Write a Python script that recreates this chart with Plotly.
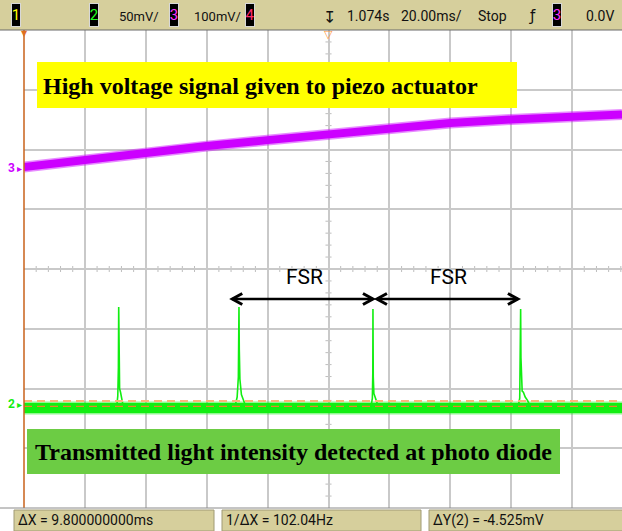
import plotly.graph_objects as go

# ---------------- data ----------------
# horizontal: 20 ms/div, 10 divisions, screen centre = 0 ms
ramp_t_ms = [-100, -80, -60, -40, -20, 0, 20, 40, 60, 80, 96.4]
ramp_mv = [0, 12.5, 25, 35, 45, 55, 65, 73.5, 79.5, 84.5, 88]        # channel 3 (100 mV/div)

pd_t_ms = [-100,
           -69.6, -69.2, -69.0, -68.9, -68.8, -68.6, -68.3, -67.9, -67.3,
           -30.8, -30.0, -29.6, -29.4, -29.3, -29.1, -28.9, -28.6, -28.0, -27.0,
           13.9, 14.4, 14.55, 14.6, 14.7, 14.9, 15.2, 15.7, 16.5,
           62.2, 62.8, 62.95, 63.1, 63.2, 63.35, 63.6, 64.0, 64.6, 65.4, 66.5,
           96.4]
pd_mv = [-4.2,
         -4.2, 6, 30, 80.3, 35, 12, 9, 3, -4.2,
         -4.2, 5, 22, 80.3, 45, 20, 10, 7, 3, -4.2,
         -4.2, 4, 25, 78.7, 22, 8, 5, 2, -4.2,
         -4.2, 4, 38, 78.7, 38, 14, 10, 9, 5, 2, -4.2,
         -4.2]                                                          # channel 2 (50 mV/div)
pd_baseline_mv = -4.2

fsr_start_ms = [-31.6, 15.9]
fsr_end_ms = [14.6, 62.2]
fsr_labels = ["FSR", "FSR"]

cursor_y_mv = [1.7, -2.825]

# channel settings (scale mV/div, ground position in divisions)
ch3_scale, ch3_offset = 100.0, 1.707
ch2_scale, ch2_offset = 50.0, -2.243

def ch3(v): return [x / ch3_scale + ch3_offset for x in v]
def ch2(v): return [x / ch2_scale + ch2_offset for x in v]

# ---------------- geometry helpers ----------------
W, H = 622, 531
L, R, T, B = 24, 0, 30, 23
PW, PH = W - L - R, H - T - B
XMIN = -100
XMAX = XMIN + PW / 60.9 * 20
def X(px): return (px - L) / PW
def Y(py): return (H - B - py) / PH

PURPLE = "#cc00ff"
GREEN = "#12ee12"
TAN = "#d6cf9c"
NARROW = "Liberation Sans Narrow, Roboto, sans-serif"

fig = go.Figure()

# purple ramp (soft edge + core)
fig.add_trace(go.Scatter(x=ramp_t_ms, y=ch3(ramp_mv), mode="lines",
                         line=dict(color=PURPLE, width=11), opacity=0.45,
                         hoverinfo="skip", showlegend=False))
fig.add_trace(go.Scatter(x=ramp_t_ms, y=ch3(ramp_mv), mode="lines",
                         line=dict(color=PURPLE, width=8),
                         hoverinfo="skip", showlegend=False))
# green photodiode baseline band
fig.add_trace(go.Scatter(x=[ramp_t_ms[0], ramp_t_ms[-1]], y=ch2([pd_baseline_mv] * 2),
                         mode="lines", line=dict(color=GREEN, width=13), opacity=0.45,
                         hoverinfo="skip", showlegend=False))
fig.add_trace(go.Scatter(x=[ramp_t_ms[0], ramp_t_ms[-1]], y=ch2([pd_baseline_mv] * 2),
                         mode="lines", line=dict(color=GREEN, width=10),
                         hoverinfo="skip", showlegend=False))
# peaks
fig.add_trace(go.Scatter(x=pd_t_ms, y=ch2(pd_mv), mode="lines",
                         line=dict(color=GREEN, width=1.6),
                         hoverinfo="skip", showlegend=False))

shapes = []
# centre-line minor ticks
for k in range(-20, 21):
    if k % 5:
        yv = k * 0.2
        shapes.append(dict(type="line", xref="x", yref="y", x0=-1, x1=1, y0=yv, y1=yv,
                           line=dict(color="#bdbdbd", width=1), layer="below"))
for k in range(-25, 25):
    if k % 5:
        xv = k * 4
        shapes.append(dict(type="line", xref="x", yref="y", x0=xv, x1=xv, y0=-0.05, y1=0.05,
                           line=dict(color="#bdbdbd", width=1), layer="below"))

# cursors
shapes.append(dict(type="line", xref="paper", yref="y", x0=0, x1=1,
                   y0=ch2([cursor_y_mv[0]])[0], y1=ch2([cursor_y_mv[0]])[0],
                   line=dict(color="#ffb47c", width=2, dash="8px,5px"), layer="above"))
shapes.append(dict(type="line", xref="paper", yref="y", x0=0, x1=1,
                   y0=ch2([cursor_y_mv[1]])[0], y1=ch2([cursor_y_mv[1]])[0],
                   line=dict(color="#e8862a", width=1.2, dash="8px,5px"), layer="above"))
# left time reference line
shapes.append(dict(type="line", xref="paper", yref="paper", x0=0, x1=0, y0=0, y1=1,
                   line=dict(color="#c8621a", width=1.5), layer="above"))

# label boxes
shapes.append(dict(type="rect", xref="paper", yref="paper", x0=X(37), x1=X(517), y0=Y(108), y1=Y(62),
                   fillcolor="#ffff00", line=dict(width=0), layer="above"))
shapes.append(dict(type="rect", xref="paper", yref="paper", x0=X(27), x1=X(560), y0=Y(474), y1=Y(429),
                   fillcolor="#6ccc44", line=dict(width=0), layer="above"))

# FSR arrows
dx = 10 * 20 / 60.9
dy = 5.5 / 59.75
ay = (269 - 299) / 59.75
for s, e in zip(fsr_start_ms, fsr_end_ms):
    shapes.append(dict(type="line", xref="x", yref="y", x0=s, x1=e, y0=ay, y1=ay,
                       line=dict(color="black", width=2.6), layer="above"))
    shapes.append(dict(type="path", xref="x", yref="y",
                       path=f"M {s+dx},{ay+dy} L {s},{ay} L {s+dx},{ay-dy}",
                       line=dict(color="black", width=3), layer="above"))
    shapes.append(dict(type="path", xref="x", yref="y",
                       path=f"M {e-dx},{ay+dy} L {e},{ay} L {e-dx},{ay-dy}",
                       line=dict(color="black", width=3), layer="above"))

# top status bar
shapes.append(dict(type="rect", xref="paper", yref="paper", x0=X(0), x1=X(W), y0=Y(30), y1=Y(0),
                   fillcolor=TAN, line=dict(width=0), layer="above"))
shapes.append(dict(type="line", xref="paper", yref="paper", x0=X(0), x1=X(W), y0=Y(30), y1=Y(30),
                   line=dict(color="#6a6a6a", width=1), layer="above"))
# bottom measurement bar
shapes.append(dict(type="line", xref="paper", yref="paper", x0=X(0), x1=X(W), y0=Y(508), y1=Y(508),
                   line=dict(color="#8a8a8a", width=1), layer="above"))
for a, b in [(14, 214), (222, 421), (429, 640)]:
    shapes.append(dict(type="rect", xref="paper", yref="paper", x0=X(a), x1=X(b), y0=Y(531), y1=Y(510),
                       fillcolor=TAN, line=dict(color="#a09a74", width=1), layer="above"))

ann = []
def txt(px, py, s, size=14, color="#111", family=NARROW, xanchor="left", **kw):
    ann.append(dict(xref="paper", yref="paper", x=X(px), y=Y(py), text=s, showarrow=False,
                    xanchor=xanchor, yanchor="middle", font=dict(size=size, color=color, family=family), **kw))

def chbox(px, s, color):
    ann.append(dict(xref="paper", yref="paper", x=X(px), y=Y(15), text=s, showarrow=False,
                    xanchor="center", yanchor="middle", width=8, height=22, bgcolor="black",
                    bordercolor="#d8d8d8", borderwidth=1, borderpad=0,
                    font=dict(size=15, color=color, family=NARROW)))

chbox(16, "1", "#ffff00")
chbox(94, "2", "#22ff22")
txt(117, 16, "50mV/", 13)
chbox(174, "3", "#ff33ff")
txt(192, 16, "100mV/", 13)
chbox(250, "4", "#ff2a6a")
txt(329, 17, "↧", 16, xanchor="center", family="DejaVu Sans")
txt(368, 16, "1.074s", 14, xanchor="center")
txt(431, 16, "20.00ms/", 14, xanchor="center")
txt(492, 16, "Stop", 14, xanchor="center")
txt(532, 16, "ƒ", 15, xanchor="center", family="DejaVu Sans")
chbox(557, "3", "#ff33ff")
txt(600, 16, "0.0V", 14, xanchor="center")

txt(16, 520, "ΔX = 9.800000000ms", 14)
txt(224, 520, "1/ΔX = 102.04Hz", 14)
txt(431, 520, "ΔY(2) = -4.525mV", 14)

# trigger / reference markers
txt(328, 34, "▽", 11, color="#ff9a3c", xanchor="center", family="DejaVu Sans")
txt(24, 33, "▼", 8, color="#e07020", xanchor="center", family="DejaVu Sans")
txt(11, 168, "<b>3</b>", 12, color=PURPLE, xanchor="center", family="Roboto")
txt(19, 168, "▸", 10, color=PURPLE, xanchor="center", family="DejaVu Sans")
txt(11, 404, "<b>2</b>", 12, color=GREEN, xanchor="center", family="Roboto")
txt(19, 404, "▸", 10, color=GREEN, xanchor="center", family="DejaVu Sans")

# box labels
txt(260, 86, "<b>High voltage signal given to piezo actuator</b>", 24, color="black",
    xanchor="center", family="Liberation Serif, serif")
txt(293, 452, "<b>Transmitted light intensity detected at photo diode</b>", 24, color="black",
    xanchor="center", family="Liberation Serif, serif")

# FSR labels
for s, e, lab in zip(fsr_start_ms, fsr_end_ms, fsr_labels):
    ann.append(dict(xref="x", yref="y", x=(s + e) / 2 + 0.5, y=(269 - 277) / 59.75, text=lab,
                    showarrow=False, xanchor="center", yanchor="middle",
                    font=dict(size=21, color="black", family="Roboto, sans-serif")))

fig.update_layout(
    width=W, height=H, margin=dict(l=L, r=R, t=T, b=B, pad=0),
    paper_bgcolor="white", plot_bgcolor="white",
    xaxis=dict(range=[XMIN, XMAX], tick0=-100, dtick=20, showgrid=True, gridcolor="#c9c9c9",
               gridwidth=1.5, zeroline=False, showticklabels=False, ticks="", showline=False,
               fixedrange=True),
    yaxis=dict(range=[-4, 4], tick0=-4, dtick=1, showgrid=True, gridcolor="#c9c9c9",
               gridwidth=1.5, zeroline=False, showticklabels=False, ticks="", showline=False,
               fixedrange=True),
    shapes=shapes, annotations=ann, showlegend=False,
)

fig.write_html("out.html", config={"displayModeBar": False},
               post_script="document.body.style.margin='0';document.body.style.padding='0';")
